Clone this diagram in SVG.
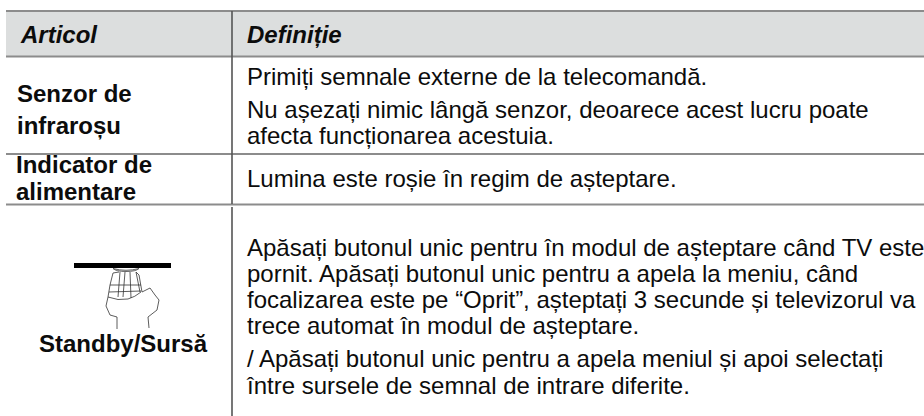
<svg xmlns="http://www.w3.org/2000/svg" width="924" height="416" viewBox="0 0 924 416">
<style>
text{font-family:"Liberation Sans",Arial,sans-serif;fill:#0c0c0c}
.h{font-size:24px;font-weight:bold;font-style:italic}
.b{font-size:24px;font-weight:bold}
.t{font-size:24px}
.r{stroke:#8c8c8c;stroke-width:2;fill:none}
.v{stroke:#555;stroke-width:1.6;fill:none}
.p{stroke:#333;stroke-width:.8;fill:none}
</style>
<rect width="924" height="416" fill="#fff"/>
<rect x="6" y="11" width="918" height="45" fill="#dcdede"/>
<g id="rules">
<path class="r" d="M6 11H924M6 56.500H924M6 154H924M6 204.500H924"/>
<path class="v" d="M232 11V204M232 207V416"/>
</g>
<g id="header">
<text class="h" x="21" y="43">Articol</text>
<text class="h" x="247" y="43">Definiție</text>
</g>
<g id="row1">
<text class="b" x="17" y="102">Senzor de</text>
<text class="b" x="17" y="134">infraroșu</text>
<text class="t" x="247" y="85">Primiți semnale externe de la telecomandă.</text>
<text class="t" x="247" y="118">Nu așezați nimic lângă senzor, deoarece acest lucru poate</text>
<text class="t" x="247" y="144">afecta funcționarea acestuia.</text>
</g>
<g id="row2">
<text class="b" x="16" y="173">Indicator de</text>
<text class="b" x="16" y="200">alimentare</text>
<text class="t" x="247" y="187">Lumina este roșie în regim de așteptare.</text>
</g>
<g id="row3">
<rect x="74" y="263" width="97" height="5" fill="#000"/>
<g id="hand">
<path d="M113 268.500Q126 272 139 268.500Q136 271.500 126 271.500Q116 271.500 113 268.500Z" fill="#ddd" stroke="#444" stroke-width=".8"/>
<path class="p" d="M119 272L113 273L110 285L108 297L106 306L110 315L117 317L117 329"/>
<path class="p" d="M136 272L139 275L142 292L150 288L155 295L159 300L157 310L148 317L149 328"/>
<path class="p" d="M120 272L118 297M125 272L123 297M130 272L131 298M136 272L140 292"/>
<path class="p" d="M110 285L141 285M109 292L141 291"/>
<path class="p" d="M108 297Q118 301 128 299Q135 297 141 292"/>
</g>
<text class="b" x="39" y="352">Standby/Sursă</text>
<text class="t" x="247" y="256">Apăsați butonul unic pentru în modul de așteptare când TV este</text>
<text class="t" x="247" y="282">pornit. Apăsați butonul unic pentru a apela la meniu, când</text>
<text class="t" x="247" y="308">focalizarea este pe “Oprit”, așteptați 3 secunde și televizorul va</text>
<text class="t" x="247" y="334">trece automat în modul de așteptare.</text>
<text class="t" x="247" y="367">/ Apăsați butonul unic pentru a apela meniul și apoi selectați</text>
<text class="t" x="247" y="394">între sursele de semnal de intrare diferite.</text>
</g>
</svg>
